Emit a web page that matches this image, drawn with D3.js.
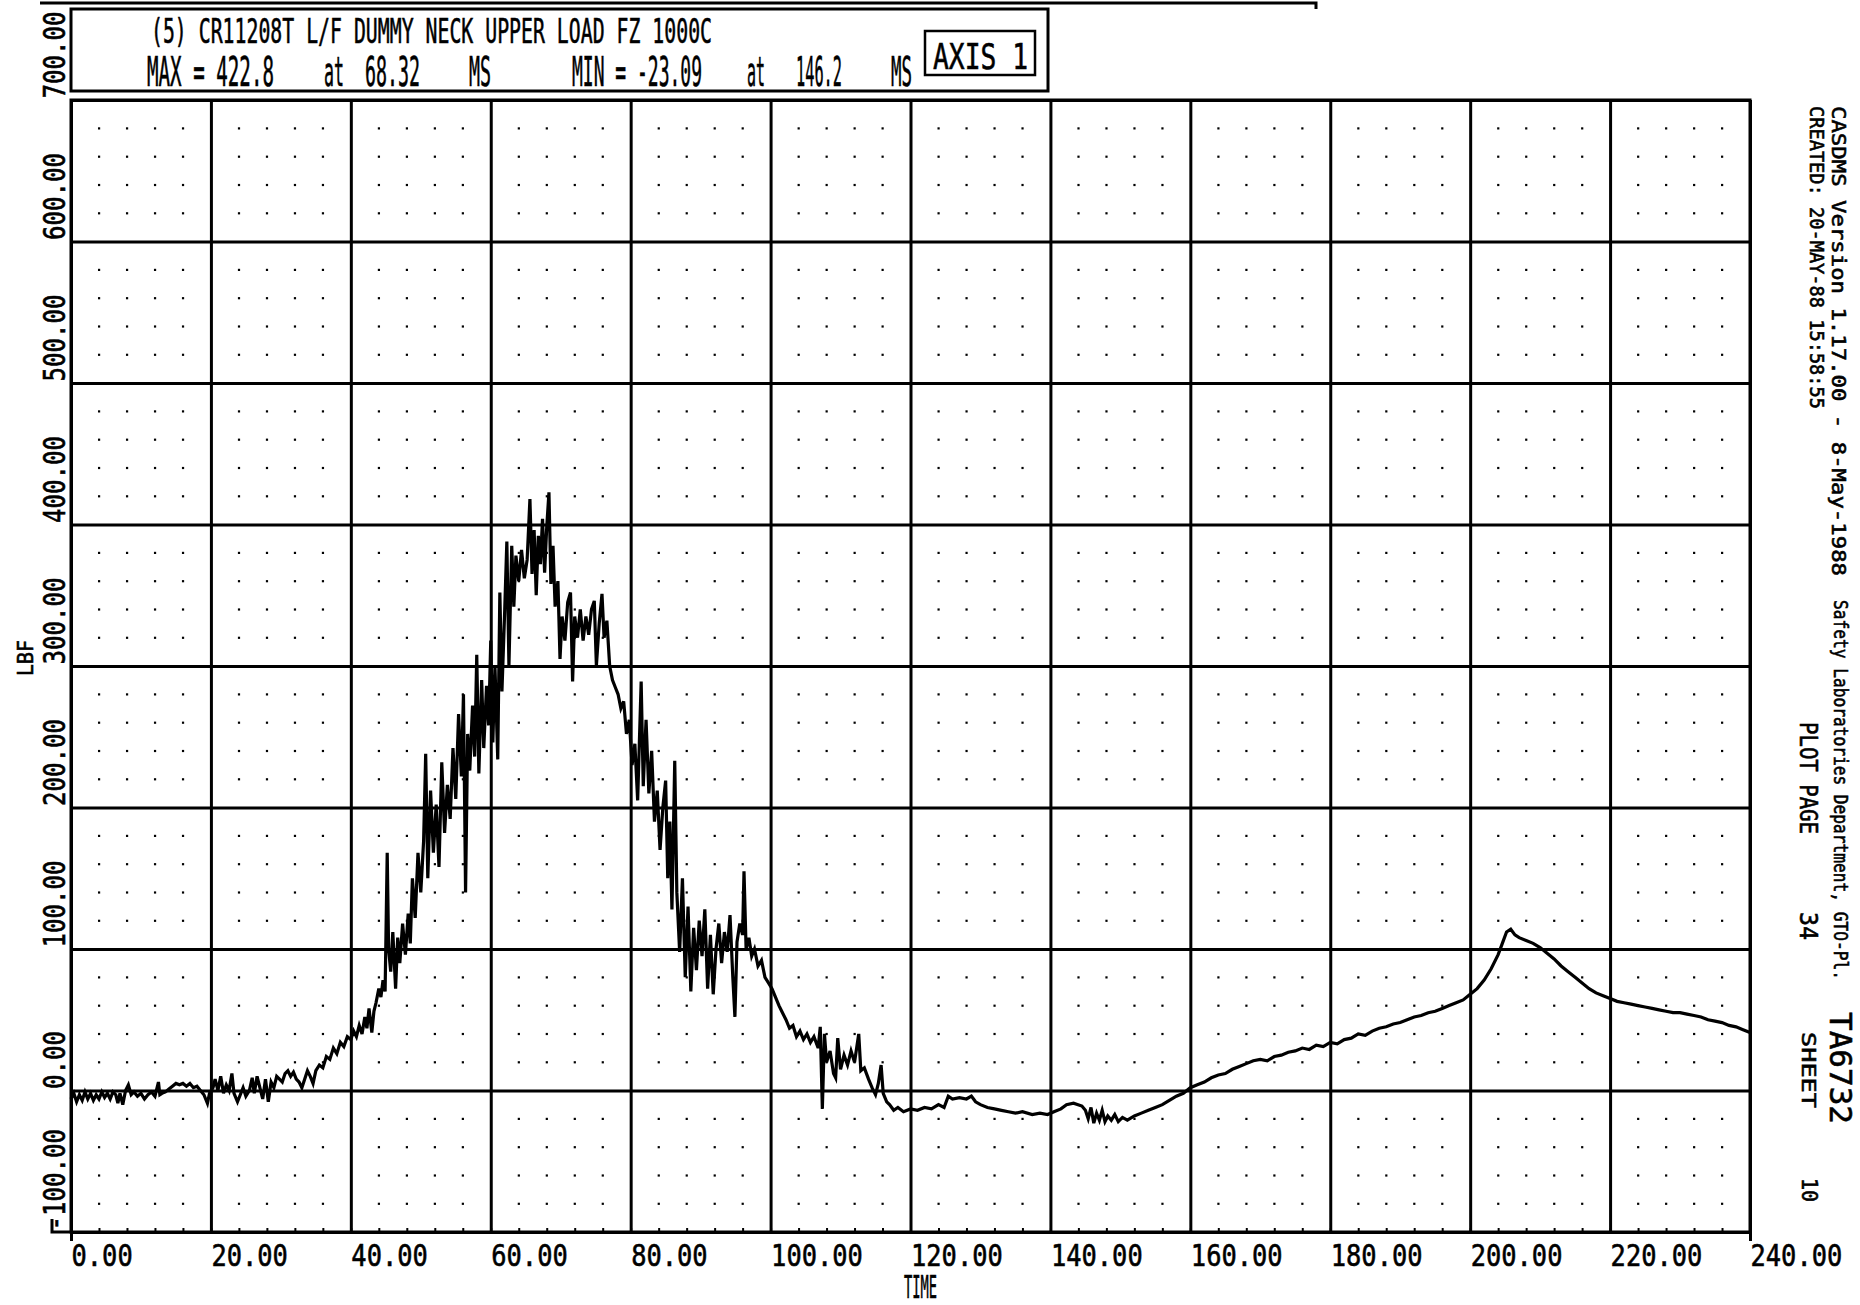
<!DOCTYPE html>
<html>
<head>
<meta charset="utf-8">
<script src="https://cdn.jsdelivr.net/npm/d3@7"></script>
<style>
  body { margin: 0; background: #fff; }
  svg text { font-family: "DejaVu Sans Mono", monospace; fill: #000; stroke: #000; stroke-width: 0.6px; }
</style>
</head>
<body>
<svg id="chart" width="1860" height="1305"></svg>
<script>
// tick values
const xTickValues = [0, 20, 40, 60, 80, 100, 120, 140, 160, 180, 200, 220, 240];
const yTickValues = [-100, 0, 100, 200, 300, 400, 500, 600, 700];

// trace, [time ms, LBF]
const baselineTrace = [[0,-6],[0.4,-2],[0.8,-8],[1.2,-3],[1.6,-7],[2,-1],[2.4,-6],[2.8,-2],[3.2,-7],[3.6,-3],[4,-6],[4.4,-1],[4.8,-5],[5.2,-2],[5.6,-6],[6,-1],[6.4,-3],[6.7,-9],[7,-2],[7.4,-10],[7.8,0],[8.2,4],[8.6,-3],[9,-1],[9.5,-4],[10,-2],[10.5,-6],[11,-3],[11.5,-1],[12,-4],[12.5,6],[12.7,-3],[13,-2],[13.5,-1],[14,1],[14.5,3],[15,5],[15.5,4],[16,5],[16.5,3],[17,5],[17.5,2],[18,3],[18.5,0],[19,-3],[19.5,-9],[19.8,-2],[20.3,2],[20.6,8],[21,0],[21.4,10],[21.8,-2],[22.2,4],[22.6,0],[23,12],[23.3,-2],[23.8,-8],[24.2,-3],[24.6,2],[25,-4],[25.5,0],[25.9,9],[26.2,-2],[26.6,10],[27,2],[27.4,-6],[27.8,8],[28.2,-8],[28.6,6],[29,2],[29.4,10],[29.8,8],[30.2,6],[30.6,12],[31,14],[31.4,10],[31.8,13],[32.2,8],[32.6,6],[33,2],[33.4,8],[33.8,14],[34.2,10],[34.6,5]];
const riseTrace = [[35,14],[35.5,18],[36,16],[36.5,24],[37,22],[37.5,30],[38,26],[38.5,34],[39,31],[39.5,38],[40,36],[40.4,42],[40.8,38],[41.2,46],[41.6,40],[42,52],[42.3,44],[42.6,58],[43,41],[43.3,56],[43.6,62],[44,72],[44.3,66],[44.6,78],[44.9,70],[45.2,168],[45.4,100],[45.7,84],[46,112],[46.4,72],[46.7,108],[47,90],[47.4,118],[47.8,96],[48.2,125],[48.5,104],[48.8,150],[49.2,122],[49.6,168],[50,140],[50.4,176],[50.7,238],[51,150],[51.4,212],[51.8,168],[52.2,202],[52.6,158],[53,232],[53.4,182],[53.8,216],[54.2,192],[54.6,242],[55,206],[55.4,266],[55.8,222],[56.1,280],[56.4,140],[56.7,252],[57,226],[57.4,272],[57.7,236],[58,308],[58.3,224],[58.7,290],[59,242],[59.4,286],[59.7,258],[60,318],[60.3,246],[60.6,300],[61,234],[61.3,352],[61.6,282]];
const peakTrace = [[62,340],[62.3,388],[62.6,300],[63,385],[63.3,342],[63.6,378],[64,360],[64.4,382],[64.8,362],[65.2,375],[65.6,418],[65.9,365],[66.2,396],[66.5,350],[66.8,392],[67.1,372],[67.4,404],[67.7,366],[68,398],[68.32,422.8],[68.6,358],[68.9,385],[69.2,342],[69.6,360],[69.9,305],[70.2,335],[70.6,318],[71,345],[71.4,352],[71.7,289],[72,335],[72.4,320],[72.8,340],[73.2,318],[73.6,335],[74,322],[74.4,340],[74.8,346],[75.1,300],[75.5,330],[75.9,351],[76.2,320],[76.6,332],[77,300],[77.4,290],[77.8,285],[78.2,280],[78.6,270],[79,275],[79.4,252],[79.8,262],[80.2,230],[80.6,245],[81,205],[81.5,289],[81.8,215],[82.2,262],[82.6,210],[83,240],[83.4,190],[83.8,212],[84.2,170],[84.6,200],[85,219],[85.3,150],[85.6,190],[85.9,128],[86.3,233],[86.6,140]];
const decayTrace = [[87,98],[87.4,150],[87.8,80],[88.2,130],[88.6,70],[89,115],[89.4,85],[89.8,120],[90.2,95],[90.6,128],[91,72],[91.4,110],[91.8,68],[92.2,100],[92.6,118],[93,90],[93.4,112],[93.8,98],[94.2,124],[94.6,80],[94.9,52],[95.2,105],[95.6,118],[96,110],[96.2,155],[96.5,100],[96.9,108],[97.3,95],[97.7,100],[98.2,88],[98.7,92],[99.2,80],[99.7,76],[100.2,72],[100.7,66],[101.2,60],[101.7,55],[102.2,50],[102.7,44],[103.2,46],[103.7,38],[104.2,42],[104.7,36],[105.2,40],[105.7,34],[106.2,38],[106.8,30],[107.1,45],[107.4,-13],[107.7,40],[108,20],[108.5,28],[109,12],[109.3,9],[109.6,37],[110,15],[110.5,25],[111,18],[111.5,28],[112,20],[112.6,40],[112.9,14],[113.4,16],[114,8],[114.5,2],[115,-3],[115.4,5],[115.8,18],[116.1,-2],[116.6,-8],[117,-10],[117.6,-14],[118.2,-12],[119,-15]];
const troughTrace = [[120,-13],[121,-14],[122,-12],[123,-13],[124,-10],[124.8,-12],[125.4,-4],[126,-6],[127,-5],[128,-6],[128.7,-4],[129.3,-8],[130,-10],[131,-12],[132,-13],[133,-14],[134,-15],[135,-16],[136,-15],[137.4,-17],[138.5,-16],[139.6,-17],[140.5,-15],[141.5,-13],[142.3,-10],[143.3,-9],[144.5,-11],[145,-14],[145.4,-20],[145.8,-12],[146.2,-23.09],[146.6,-16],[147,-21],[147.4,-14],[147.8,-22],[148.2,-18],[148.7,-21],[149.2,-17],[149.7,-22],[150.3,-19],[151,-21],[152,-18],[153,-16],[154,-14],[155,-12],[156,-10],[157,-7],[158,-4],[159,-2],[160,2],[161,4],[162,6],[163,9],[164,11],[165,12],[166,15],[167,17],[168,19],[169,21],[170,22],[171,21],[172,24],[173,25],[174,27],[175,28]];
const reboundTrace = [[176,30],[177,29],[178,32],[179,31],[180,34],[181,33],[182,36],[183,37],[184,40],[185,39],[186,42],[187,44],[188,45],[189,47],[190,48],[191,50],[192,52],[193,53],[194,55],[195,56],[196,58],[197,60],[198,62],[199,64],[200,68],[201,72],[202,78],[203,86],[204,96],[204.6,104],[205.2,112],[205.8,114],[206.4,110],[207,108],[208,106],[209,104],[210,101],[211,97],[212,93],[213,88],[214,84],[215,80],[216,76],[217,72],[218,69],[219,67],[220,65],[221,63],[222,62],[223,61],[224,60],[225,59],[226,58],[227,57],[228,56],[229,55],[230,55],[231,54],[232,53],[233,52],[234,50],[235,49],[236,48],[237,46],[238,45],[239,43],[240,41]];

const trace = [].concat(baselineTrace, riseTrace, peakTrace, decayTrace, troughTrace, reboundTrace);

const svg = d3.select("#chart");
const plot = {left: 71, right: 1750, top: 100, bottom: 1232};

const x = d3.scaleLinear().domain([0, 240]).range([plot.left, plot.right]);
const y = d3.scaleLinear().domain([-100, 700]).range([plot.bottom, plot.top]);

svg.append("rect").attr("width", 1860).attr("height", 1305).attr("fill", "#fff");

// faint minor dot grid (4 ms x 20 LBF)
const dots = [];
d3.range(0, 241, 4).filter(t => t % 20 !== 0).forEach(t => {
    d3.range(-100, 701, 20).filter(v => v % 100 !== 0).forEach(v => dots.push([t, v]));
});
svg.append("g").selectAll("rect").data(dots).enter().append("rect")
    .attr("x", d => x(d[0]) - 1).attr("y", d => y(d[1]) - 1)
    .attr("width", 2.2).attr("height", 2.2).attr("fill", "#000");

// vertical grid + x labels
const xAxis = svg.append("g")
    .attr("transform", `translate(0,${plot.bottom})`)
    .call(d3.axisBottom(x).tickValues(xTickValues)
        .tickSize(-(plot.bottom - plot.top)).tickSizeOuter(0)
        .tickFormat(d => d.toFixed(2)));
xAxis.select(".domain").remove();
xAxis.selectAll(".tick line").attr("stroke", "#000").attr("stroke-width", 3)
    .attr("y1", d => (d === 0 || d === 240) ? 9 : 0);
xAxis.selectAll(".tick text")
    .attr("text-anchor", "start").attr("x", 0).attr("y", 34).attr("dy", null)
    .attr("font-size", 31)
    .attr("textLength", d => d.toFixed(2).length * 15.3)
    .attr("lengthAdjust", "spacingAndGlyphs");

// minor ticks on the time axis
const minorX = svg.append("g")
    .attr("transform", `translate(0,${plot.bottom})`)
    .call(d3.axisBottom(x).tickValues(d3.range(4, 240, 4)).tickSize(-4).tickFormat(""));
minorX.select(".domain").remove();
minorX.selectAll(".tick line").attr("stroke", "#000").attr("stroke-width", 2);

// horizontal grid + y labels
const yAxis = svg.append("g")
    .attr("transform", `translate(${plot.left},0)`)
    .call(d3.axisLeft(y).tickValues(yTickValues)
        .tickSize(-(plot.right - plot.left)).tickSizeOuter(0)
        .tickFormat(d => d.toFixed(2)));
yAxis.select(".domain").remove();
yAxis.selectAll(".tick line").attr("stroke", "#000").attr("stroke-width", 3);
yAxis.selectAll(".tick text")
    .attr("text-anchor", "start").attr("x", 0).attr("y", 0).attr("dy", null)
    .attr("transform", "translate(-6,-2) rotate(-90)")
    .attr("font-size", 31)
    .attr("textLength", d => d.toFixed(2).length * 14.5)
    .attr("lengthAdjust", "spacingAndGlyphs");

// frame + axis stub
svg.append("rect")
    .attr("x", plot.left).attr("y", plot.top)
    .attr("width", plot.right - plot.left).attr("height", plot.bottom - plot.top)
    .attr("fill", "none").attr("stroke", "#000").attr("stroke-width", 3);
svg.append("path")
    .attr("d", `M52,${plot.bottom - 13}V${plot.bottom}H${plot.left}`)
    .attr("fill", "none").attr("stroke", "#000").attr("stroke-width", 3);

// the trace
const line = d3.line().x(d => x(d[0])).y(d => y(d[1]));
svg.append("path").datum(trace)
    .attr("d", line)
    .attr("fill", "none").attr("stroke", "#000").attr("stroke-width", 3.2)
    .attr("stroke-linejoin", "miter");

// axis titles
svg.append("text").attr("x", 904).attr("y", 1298).text("TIME")
    .attr("font-size", 32).attr("textLength", 33).attr("lengthAdjust", "spacingAndGlyphs");
svg.append("text").attr("transform", "translate(33,676) rotate(-90)").text("LBF")
    .attr("font-size", 22).attr("textLength", 36).attr("lengthAdjust", "spacingAndGlyphs");

// header block
svg.append("path").attr("d", "M40,3H1316V9")
    .attr("fill", "none").attr("stroke", "#000").attr("stroke-width", 3);
svg.append("rect").attr("x", 71).attr("y", 9).attr("width", 977).attr("height", 82)
    .attr("fill", "none").attr("stroke", "#000").attr("stroke-width", 3);
svg.append("rect").attr("x", 925).attr("y", 31).attr("width", 110).attr("height", 44)
    .attr("fill", "none").attr("stroke", "#000").attr("stroke-width", 2.5);
svg.append("text").attr("x", 933).attr("y", 69).text("AXIS 1")
    .attr("font-size", 36).attr("textLength", 95).attr("lengthAdjust", "spacingAndGlyphs");

svg.append("text").attr("x", 151).attr("y", 43)
    .text("(5) CR11208T L/F DUMMY NECK UPPER LOAD FZ 1000C")
    .attr("font-size", 34).attr("textLength", 561).attr("lengthAdjust", "spacingAndGlyphs");

const fmt = v => String(+v.toPrecision(4));
const iMax = d3.maxIndex(trace, d => d[1]);
const iMin = d3.minIndex(trace, d => d[1]);
const statTokens = [
    [`MAX = ${fmt(trace[iMax][1])}`, 147, 127],
    ["at", 324, 20],
    [fmt(trace[iMax][0]), 365, 55],
    ["MS", 469, 22],
    [`MIN = ${fmt(trace[iMin][1])}`, 572, 130],
    ["at", 747, 18],
    [fmt(trace[iMin][0]), 796, 46],
    ["MS", 891, 21]
];
svg.append("g").selectAll("text").data(statTokens).enter().append("text")
    .attr("x", d => d[1]).attr("y", 86).text(d => d[0])
    .attr("font-size", 40).attr("textLength", d => d[2]).attr("lengthAdjust", "spacingAndGlyphs");

// side notes (rotated, reading downward)
const notes = [
    {text: "CASDMS Version 1.17.00 - 8-May-1988", x: 1832, y: 106, len: 470, size: 20},
    {text: "Safety Laboratories Department, GTO-Pl.", x: 1834, y: 600, len: 380, size: 20},
    {text: "CREATED: 20-MAY-88 15:58:55", x: 1810, y: 106, len: 303, size: 20},
    {text: "PLOT PAGE", x: 1800, y: 722, len: 112, size: 25},
    {text: "34", x: 1800, y: 912, len: 28, size: 25},
    {text: "TA6732", x: 1830, y: 1012, len: 112, size: 31},
    {text: "SHEET", x: 1802, y: 1032, len: 76, size: 20},
    {text: "10", x: 1802, y: 1178, len: 24, size: 22}
];
svg.append("g").selectAll("text").data(notes).enter().append("text")
    .attr("transform", d => `translate(${d.x},${d.y}) rotate(90)`)
    .text(d => d.text)
    .attr("font-size", d => d.size)
    .attr("textLength", d => d.len).attr("lengthAdjust", "spacingAndGlyphs");
</script>
</body>
</html>
